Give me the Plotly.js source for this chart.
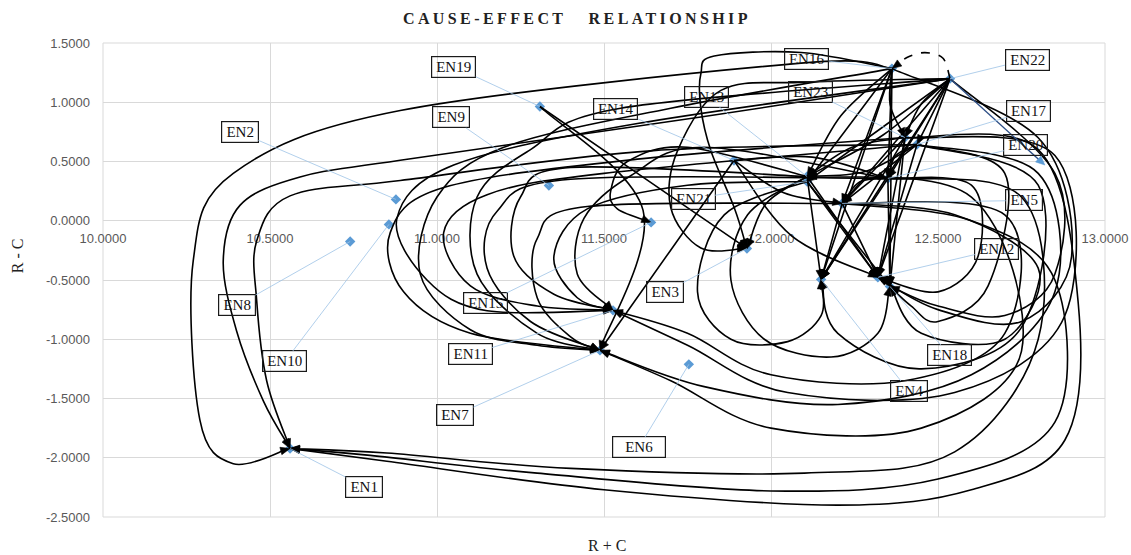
<!DOCTYPE html>
<html>
<head>
<meta charset="utf-8">
<script src="https://cdn.plot.ly/plotly-3.0.1.min.js"></script>
<style>
html,body{margin:0;padding:0;background:#fff;}
#chart{width:1131px;height:555px;}
</style>
</head>
<body>
<div id="chart"></div>
<script>
// Factors (prominence R+C, relation R-C)
const nodeNames = ['EN1','EN2','EN3','EN4','EN5','EN6','EN7','EN8','EN9','EN10','EN11','EN12',
                   'EN13','EN14','EN15','EN16','EN17','EN18','EN19','EN20','EN21','EN22','EN23'];
const rPlusC  = [10.560,10.877,11.928,12.150,12.213,11.754,11.488,10.740,11.335,10.856,11.527,12.320,
                 12.108,11.889,11.641,12.362,12.437,12.356,11.308,12.350,12.108,12.536,12.401];
const rMinusC = [-1.922,0.180,-0.234,-0.495,0.146,-1.212,-1.094,-0.175,0.298,-0.031,-0.756,-0.478,
                 0.373,0.509,-0.014,1.284,0.643,-0.554,0.964,0.357,0.331,1.199,0.702];

const xTickVals = [10,10.5,11,11.5,12,12.5,13];
const xTickText = ['10.0000','10.5000','11.0000','11.5000','12.0000','12.5000','13.0000'];
const yTickVals = [-2.5,-2,-1.5,-1,-0.5,0,0.5,1,1.5];
const yTickText = ['-2.5000','-2.0000','-1.5000','-1.0000','-0.5000','0.0000','0.5000','1.0000','1.5000'];

// Directed influence links: [cause, effect]
const links = [
 ['EN16','EN1'],['EN22','EN1'],['EN17','EN1'],['EN23','EN1'],['EN20','EN1'],['EN5','EN1'],
 ['EN22','EN11'],['EN23','EN7'],['EN17','EN11'],['EN16','EN7'],['EN20','EN7'],['EN13','EN11'],
 ['EN5','EN7'],['EN22','EN7'],['EN14','EN7'],['EN21','EN11'],['EN20','EN11'],
 ['EN17','EN7'],['EN23','EN11'],['EN5','EN11'],['EN13','EN7'],
 ['EN19','EN3'],['EN16','EN3'],['EN22','EN3'],['EN13','EN3'],['EN13','EN15'],['EN19','EN7'],
 ['EN22','EN16'],
 ['EN16','EN13'],['EN16','EN5'],['EN16','EN4'],['EN16','EN12'],['EN16','EN18'],['EN16','EN20'],['EN16','EN21'],['EN16','EN23'],
 ['EN22','EN13'],['EN22','EN23'],['EN22','EN17'],['EN22','EN20'],['EN22','EN5'],['EN22','EN12'],['EN22','EN4'],['EN22','EN21'],
 ['EN23','EN5'],['EN23','EN4'],['EN23','EN18'],['EN23','EN13'],['EN23','EN12'],
 ['EN17','EN13'],['EN17','EN5'],['EN17','EN12'],['EN17','EN20'],
 ['EN13','EN4'],['EN13','EN12'],
 ['EN20','EN4'],['EN20','EN18'],['EN20','EN5'],
 ['EN5','EN12'],['EN5','EN4'],
 ['EN21','EN12'],['EN21','EN18'],
 ['EN14','EN20'],['EN14','EN5'],
 ['EN22','EN18'],['EN17','EN18'],['EN20','EN12'],['EN5','EN18'],['EN13','EN18'],['EN21','EN4'],['EN17','EN4'],['EN14','EN12']
];
const dashedLinks = ['EN22>EN16'];

// Connector routing: either waypoints (R+C, R-C) or a bend factor
const routes = {
 'EN16>EN1': [[12.09,1.33],[10.89,0.93],[10.39,0.40],[10.27,-0.34],[10.29,-1.68],[10.39,-2.05]],
 'EN22>EN1': [[11.80,0.88],[10.89,0.51],[10.59,0.37],[10.41,0.13],[10.36,-0.34],[10.40,-0.93],[10.48,-1.52]],
 'EN17>EN1': [[11.64,0.59],[10.89,0.34],[10.56,0.21],[10.46,-0.17],[10.46,-0.67],[10.49,-1.35]],
 'EN23>EN1': [[12.80,0.60],[12.92,-0.70],[12.88,-1.85],[12.60,-2.27],[12.20,-2.40],[11.50,-2.27],[10.85,-2.03]],
 'EN20>EN1': [[12.75,0.20],[12.80,-1.00],[12.55,-1.95],[12.10,-2.13],[11.40,-2.09],[10.85,-1.96]],
 'EN5>EN1':  [[12.60,0.00],[12.85,-0.50],[12.85,-1.70],[12.50,-2.18],[12.00,-2.28],[11.30,-2.13],[10.80,-1.98]],
 'EN22>EN11': [[11.60,0.82],[11.05,0.47],[10.88,0.02],[10.97,-0.50],[11.15,-0.76]],
 'EN23>EN7':  [[11.60,0.52],[11.02,0.28],[10.86,-0.10],[10.90,-0.60],[11.10,-0.95]],
 'EN17>EN11': [[11.50,0.40],[11.15,0.22],[11.02,-0.10],[11.10,-0.55],[11.30,-0.72]],
 'EN16>EN7':  [[11.70,0.95],[11.20,0.62],[11.00,0.20],[10.95,-0.45],[11.10,-0.92],[11.30,-1.05]],
 'EN20>EN7':  [[11.40,0.35],[11.18,0.08],[11.15,-0.40],[11.28,-0.85]],
 'EN13>EN11': [[11.40,0.45],[11.25,0.20],[11.23,-0.30],[11.35,-0.62]],
 'EN5>EN7':   [[11.45,0.12],[11.30,-0.15],[11.30,-0.65],[11.40,-0.98]],
 'EN22>EN7':  [[11.55,0.95],[11.28,0.60],[11.12,0.20],[11.12,-0.45],[11.30,-0.95]],
 'EN21>EN11': [[11.75,0.30],[11.45,0.10],[11.35,-0.30],[11.42,-0.65]],
 'EN20>EN11': [[11.80,0.62],[11.58,0.38],[11.44,0.02],[11.42,-0.45]],
 'EN17>EN7':  [[12.80,0.40],[12.85,-0.60],[12.60,-1.30],[12.20,-1.55],[11.80,-1.40]],
 'EN23>EN11': [[12.85,0.55],[12.88,-0.80],[12.55,-1.45],[12.05,-1.45],[11.75,-1.05]],
 'EN5>EN11':  [[12.70,0.05],[12.70,-0.95],[12.40,-1.35],[12.00,-1.30],[11.75,-0.95]],
 'EN13>EN7':  [[12.60,0.20],[12.75,-1.10],[12.45,-1.75],[12.00,-1.75],[11.70,-1.35]],
 'EN16>EN3':  [[12.09,1.42],[11.83,1.39],[11.79,1.24],[11.79,0.95],[11.82,0.59],[11.89,0.11]],
 'EN22>EN3':  [[12.10,1.17],[11.85,1.10],[11.72,0.59],[11.70,0.11],[11.79,-0.23]],
 'EN13>EN15': [[11.75,0.62],[11.57,0.50],[11.52,0.25],[11.54,0.10]],
 'EN22>EN16': [[12.515,1.371],[12.461,1.419],[12.407,1.377]],
 'EN16>EN12': [[12.80,0.70],[12.90,-0.30],[12.75,-0.85],[12.50,-0.75]],
 'EN22>EN18': [[12.85,0.40],[12.85,-0.45],[12.70,-0.80],[12.50,-0.72]],
 'EN17>EN18': [[12.70,0.40],[12.65,-0.55],[12.50,-0.85],[12.42,-0.72]],
 'EN20>EN12': [[12.60,0.30],[12.62,-0.30],[12.50,-0.60]],
 'EN5>EN18':  [[12.55,0.05],[12.80,-0.40],[12.70,-1.00],[12.45,-0.95]],
 'EN13>EN18': [[11.93,0.05],[11.88,-0.50],[11.98,-1.00],[12.18,-1.15],[12.32,-0.95]],
 'EN21>EN4':  [[11.86,0.05],[11.78,-0.60],[11.88,-1.00],[12.05,-1.02],[12.15,-0.80]],
 'EN17>EN4':  [[12.80,0.30],[12.75,-0.90],[12.45,-1.25],[12.20,-0.95]],
 'EN19>EN7': -0.30, 'EN16>EN13': 0.08, 'EN22>EN23': 0.10, 'EN22>EN13': -0.05,
 'EN14>EN12': 0.12, 'EN14>EN20': -0.08, 'EN14>EN5': 0.10, 'EN23>EN13': 0.10,
 'EN17>EN13': -0.10, 'EN13>EN3': 0.15, 'EN16>EN23': 0.12, 'EN20>EN5': 0.20, 'EN17>EN20': 0.20
};

// Label box offsets from each point, in pixels [dx, dy]
const labelOffsets = {
 EN1:[74,38], EN2:[-156,-67], EN3:[-82,44], EN4:[88,112], EN5:[182,-3], EN6:[-50,83],
 EN7:[-145,65], EN8:[-113,64], EN9:[-98,-68], EN10:[-104,137], EN11:[-143,44], EN12:[119,-28],
 EN13:[-101,-80], EN14:[-118,-51], EN15:[-166,81], EN16:[-85,-10], EN17:[112,-34], EN18:[60,69],
 EN19:[-86,-40], EN20:[138,-33], EN21:[-114,17], EN22:[77,-19], EN23:[-94,-46]
};

const X0 = 10, X1 = 13, Y0 = -2.5, Y1 = 1.5;
const W = 1131, H = 555;
const MARGIN = {l:103, r:26, t:43, b:38};
const sx = (W - MARGIN.l - MARGIN.r) / (X1 - X0);
const sy = (H - MARGIN.t - MARGIN.b) / (Y1 - Y0);
const toPx = p => [(p[0] - X0) * sx, (Y1 - p[1]) * sy];
const toData = q => [X0 + q[0] / sx, Y1 - q[1] / sy];
const f = v => v.toFixed(5);
const pos = {};
nodeNames.forEach((n, i) => { pos[n] = [rPlusC[i], rMinusC[i]]; });

function spline(pts) {
  const segs = [];
  for (let i = 0; i < pts.length - 1; i++) {
    const p0 = pts[Math.max(i - 1, 0)], p1 = pts[i], p2 = pts[i + 1], p3 = pts[Math.min(i + 2, pts.length - 1)];
    const c1 = [p1[0] + (p2[0] - p0[0]) / 6, p1[1] + (p2[1] - p0[1]) / 6];
    const c2 = [p2[0] - (p3[0] - p1[0]) / 6, p2[1] - (p3[1] - p1[1]) / 6];
    segs.push([c1, c2, p2]);
  }
  return segs;
}

function arrowHead(tip, ux, uy, len, half) {
  const base = [tip[0] - ux * len, tip[1] - uy * len];
  const pL = [base[0] - uy * half, base[1] + ux * half], pR = [base[0] + uy * half, base[1] - ux * half];
  return 'M ' + [tip, pL, pR].map(p => toData(p).map(f).join(',')).join(' L ') + ' Z';
}

const shapes = [];
// plot frame
shapes.push({type:'rect', xref:'x domain', yref:'y domain', x0:0, x1:1, y0:0, y1:1,
             line:{color:'#d9d9d9', width:1}, layer:'below'});

links.forEach(([a, b]) => {
  const key = a + '>' + b;
  const r = routes[key];
  const s = toPx(pos[a]), t = toPx(pos[b]);
  let pts;
  if (Array.isArray(r)) {
    pts = [s].concat(r.map(toPx), [t]);
  } else if (typeof r === 'number') {
    const dx = t[0] - s[0], dy = t[1] - s[1];
    const mid = [(s[0] + t[0]) / 2 - dy * r, (s[1] + t[1]) / 2 + dx * r];
    pts = [s, mid, t];
  } else {
    pts = [s, t];
  }
  const segs = spline(pts);
  const last = segs[segs.length - 1];
  let ux = t[0] - last[1][0], uy = t[1] - last[1][1];
  const L = Math.hypot(ux, uy) || 1; ux /= L; uy /= L;
  last[2] = [t[0] - ux * 5, t[1] - uy * 5];
  let d = 'M ' + toData(s).map(f).join(',');
  segs.forEach(sg => { d += ' C ' + sg.map(p => toData(p).map(f).join(',')).join(' '); });
  shapes.push({type:'path', xref:'x', yref:'y', path:d, layer:'above',
               line:{color:'#000', width:1.6, dash: dashedLinks.includes(key) ? 'dash' : 'solid'}});
  shapes.push({type:'path', xref:'x', yref:'y', path:arrowHead(t, ux, uy, 9.5, 3.8), layer:'above',
               fillcolor:'#000', line:{color:'#000', width:0.6}});
});

// short pointer leaving EN22 towards the right-hand margin
const pointerTip = [12.82, 0.47];
(() => {
  const s = toPx(pos['EN22']), t = toPx(pointerTip);
  let ux = t[0] - s[0], uy = t[1] - s[1];
  const L = Math.hypot(ux, uy); ux /= L; uy /= L;
  const e = toData([t[0] - ux * 5, t[1] - uy * 5]);
  shapes.push({type:'line', xref:'x', yref:'y', x0:pos['EN22'][0], y0:pos['EN22'][1], x1:e[0], y1:e[1],
               layer:'above', line:{color:'#2E4F86', width:1.4}});
  shapes.push({type:'path', xref:'x', yref:'y', path:arrowHead(t, ux, uy, 9, 4), layer:'above',
               fillcolor:'#5B9BD5', line:{color:'#5B9BD5', width:0.5}});
})();

const annotations = nodeNames.map((n, i) => ({
  x: rPlusC[i], y: rMinusC[i], xref:'x', yref:'y', text:n,
  showarrow:true, arrowhead:0, arrowwidth:0.8, arrowcolor:'#9DC3E6', standoff:0,
  ax: labelOffsets[n][0], ay: labelOffsets[n][1],
  bordercolor:'#1a1a1a', borderwidth:1.2, borderpad:1,
  width: n === 'EN6' ? 50 : (n.length > 3 ? 41 : 34), height:18,
  font:{family:'Liberation Serif, Times New Roman, serif', size:15, color:'#111'}
}));
annotations.push({xref:'paper', yref:'paper', x:0.503, y:-0.06, text:'R + C', showarrow:false,
  xanchor:'center', yanchor:'middle', font:{family:'Liberation Serif, serif', size:16, color:'#222'}});
annotations.push({xref:'paper', yref:'paper', x:-0.085, y:0.552, text:'R - C', showarrow:false, textangle:-90,
  xanchor:'center', yanchor:'middle', font:{family:'Liberation Serif, serif', size:16, color:'#222'}});

const traces = [{
  type:'scatter', mode:'markers', x:rPlusC, y:rMinusC, text:nodeNames, cliponaxis:false,
  marker:{symbol:'diamond', size:8, color:'#5B9BD5'}, hoverinfo:'text+x+y'
}];

const layout = {
  width:W, height:H, margin:MARGIN, showlegend:false,
  paper_bgcolor:'#fff', plot_bgcolor:'#fff',
  title:{text:'CAUSE-EFFECT\u00a0\u00a0\u00a0RELATIONSHIP', xref:'paper', x:0.473, yref:'container', y:0.966,
         xanchor:'center', yanchor:'middle',
         font:{family:'Liberation Serif, Times New Roman, serif', size:16, color:'#222', weight:'bold'}},
  xaxis:{range:[X0, X1], tickvals:xTickVals, ticktext:xTickText, showgrid:true, gridcolor:'#d9d9d9',
         zeroline:false, showline:false, ticks:'', anchor:'free', position:(0 - Y0) / (Y1 - Y0),
         ticklabelstandoff:8, tickfont:{family:'Liberation Sans, Arial, sans-serif', size:13, color:'#595959'}},
  yaxis:{range:[Y0, Y1], tickvals:yTickVals, ticktext:yTickText, showgrid:true, gridcolor:'#d9d9d9',
         zeroline:false, showline:false, ticks:'', ticklabelstandoff:12,
         tickfont:{family:'Liberation Sans, Arial, sans-serif', size:13, color:'#595959'}},
  shapes:shapes, annotations:annotations
};

Plotly.newPlot('chart', traces, layout, {displayModeBar:false, staticPlot:true}).then(gd => {
  const t = gd.querySelector('.gtitle');
  if (t) t.style.letterSpacing = '3.4px';
});
</script>
</body>
</html>
